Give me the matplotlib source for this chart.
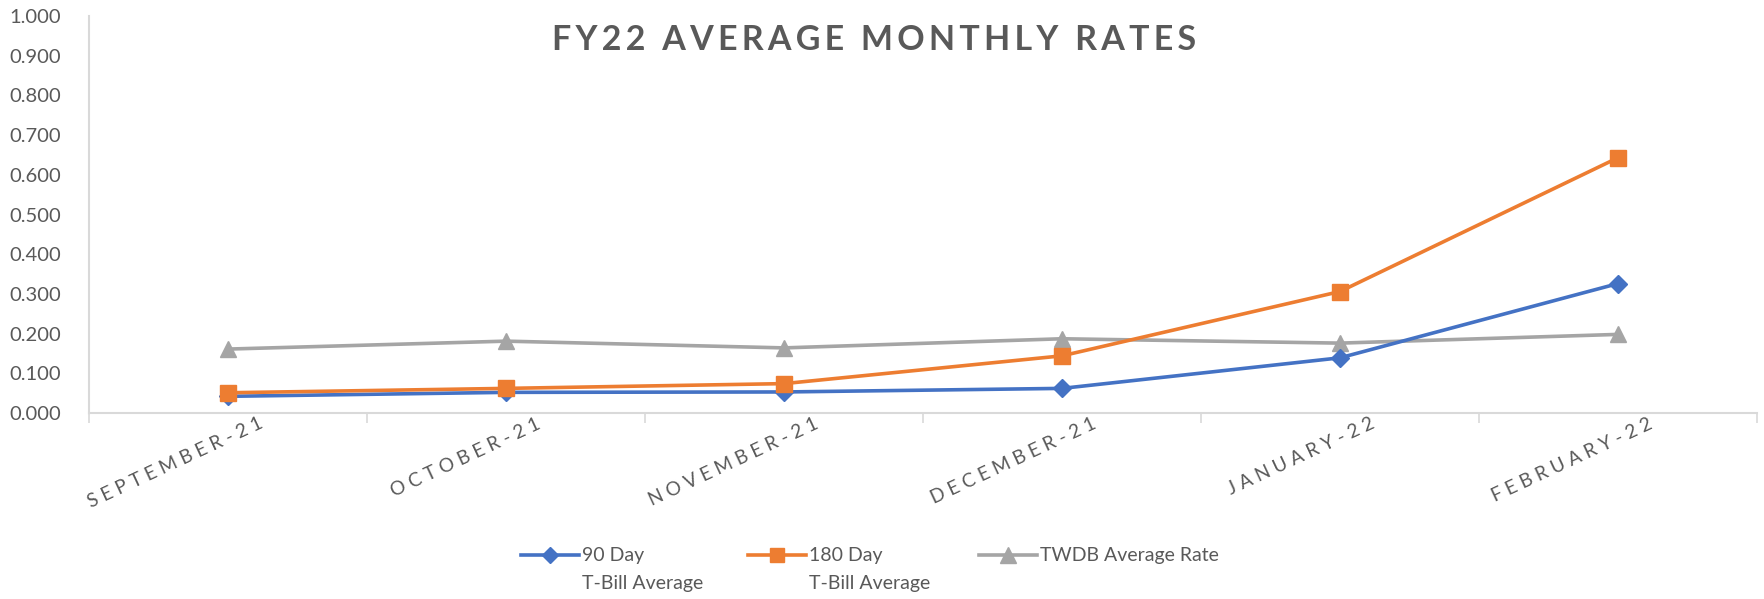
import matplotlib
matplotlib.use('Agg')
import matplotlib.pyplot as plt
import matplotlib.transforms as mtransforms
from matplotlib.lines import Line2D
import numpy as np

# datos
meses = ['SEPTEMBER-21', 'OCTOBER-21', 'NOVEMBER-21', 'DECEMBER-21', 'JANUARY-22', 'FEBRUARY-22']
tbill_90 = [0.042, 0.052, 0.053, 0.062, 0.139, 0.326]
tbill_180 = [0.051, 0.062, 0.074, 0.144, 0.306, 0.643]
twdb_rate = [0.161, 0.181, 0.164, 0.187, 0.176, 0.198]
nombres = [['90 Day', 'T-Bill Average'], ['180 Day', 'T-Bill Average'], ['TWDB Average Rate']]
colores = ['#4472C4', '#ED7D31', '#A5A5A5']
marcas = ['D', 's', '^']
tam_marca = [9, 11, 12]

GRIS_TXT = '#595959'
GRIS_EJE = '#D9D9D9'
plt.rcParams['font.family'] = ['Lato', 'DejaVu Sans']


def espaciar(txt, sep='\u200a'):
    # Excel usa espaciado entre letras; lo imitamos con espacios
    return sep.join(txt)


fig = plt.figure(figsize=(17.64, 5.99), dpi=100)
ax = fig.add_axes([89 / 1764, 1 - 413 / 599, (1757 - 89) / 1764, (413 - 16) / 599])

x = np.arange(len(meses))
series = [tbill_90, tbill_180, twdb_rate]
orden_z = [3, 3, 2]
for serie, c, mk, ms, z in zip(series, colores, marcas, tam_marca, orden_z):
    ax.plot(x, serie, color=c, lw=2.6, marker=mk, ms=ms, zorder=z)

ax.set_xlim(-0.5, len(meses) - 0.5)
ax.set_ylim(0, 1.0)
ax.set_yticks(np.arange(0, 1.01, 0.1))
ax.set_yticklabels([f'{v:.3f}' for v in np.arange(0, 1.01, 0.1)])

for lado in ['top', 'right']:
    ax.spines[lado].set_visible(False)
for lado in ['left', 'bottom']:
    ax.spines[lado].set_color(GRIS_EJE)
    ax.spines[lado].set_linewidth(1.5)

ax.set_xticks(np.arange(-0.5, len(meses)))
ax.set_xticklabels([])
ax.tick_params(axis='x', length=7, color=GRIS_EJE, width=1.2)
ax.tick_params(axis='y', length=0, labelsize=14.5, labelcolor=GRIS_TXT, pad=20)

# etiquetas de meses rotadas
desplaz = mtransforms.ScaledTranslation(0.30, -0.02, fig.dpi_scale_trans)
for i, m in enumerate(meses):
    ax.text(i, 0, espaciar(m, ' '), transform=ax.get_xaxis_transform() + desplaz,
            rotation=25, rotation_mode='anchor', ha='right', va='top',
            fontsize=13.8, color=GRIS_TXT)

fig.text(874 / 1764, 1 - 40 / 599, espaciar('FY22 AVERAGE MONTHLY RATES', '\u2009'),
         ha='center', va='center', fontsize=24.5, fontweight='bold', color=GRIS_TXT)

# leyenda hecha a mano (linea al nivel de la primera linea de texto)
ley_x = [521, 748, 979]
for lx, nom, c, mk, ms in zip(ley_x, nombres, colores, marcas, tam_marca):
    y1 = 1 - 555 / 599
    fig.add_artist(Line2D([lx / 1764, (lx + 58) / 1764], [y1, y1], color=c, lw=2.6,
                          transform=fig.transFigure))
    fig.add_artist(Line2D([(lx + 29) / 1764], [y1], color=c, marker=mk, ms=ms - 1,
                          transform=fig.transFigure))
    for k, linea in enumerate(nom):
        fig.text((lx + 61) / 1764, 1 - (555 + 28 * k) / 599, linea, ha='left', va='center',
                 fontsize=14, color=GRIS_TXT)

fig.savefig('out.png', dpi=100)
